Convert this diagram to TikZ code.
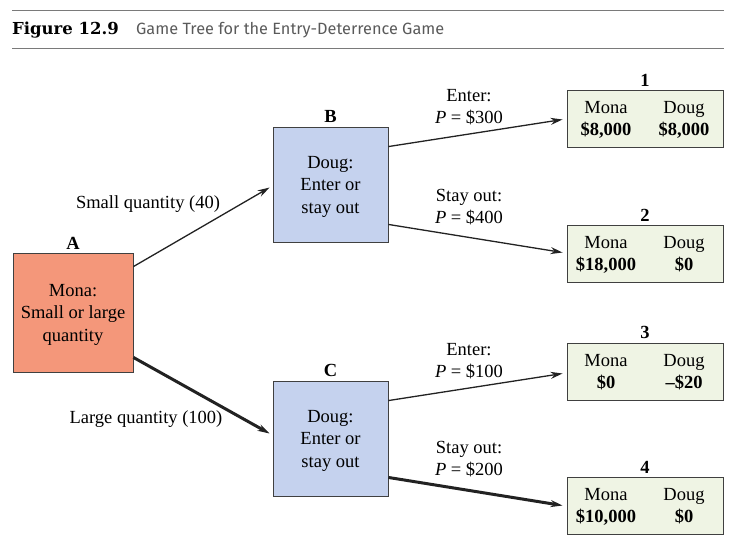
\documentclass[tikz,border=0pt]{standalone}
\usepackage{fontspec}
\setmainfont{Liberation Serif}
\newfontfamily\headfont{DejaVu Serif}
\newfontfamily\capfont{Fira Sans}
\usetikzlibrary{arrows.meta,positioning}

\definecolor{monared}{HTML}{F4977A}
\definecolor{dougblue}{HTML}{C5D2EE}
\definecolor{payoffgreen}{HTML}{EFF4E4}
\definecolor{rulegray}{HTML}{7A7A7A}
\definecolor{capgray}{HTML}{5A5A5A}
\definecolor{inkgray}{HTML}{222222}

\tikzset{
  player/.style={draw=black!75, line width=0.9pt, minimum width=115pt,
    minimum height=115pt, align=center, inner sep=0pt,
    label distance=3pt, text depth=-2.5pt},
  payoff/.style={draw=black!75, fill=payoffgreen, line width=0.9pt,
    minimum width=156pt, minimum height=57pt, align=center, inner sep=0pt,
    label distance=5pt, text depth=0pt},
  move/.style={draw=inkgray, line width=1.3pt, -{Stealth[length=12pt,width=7pt]}},
  bestmove/.style={move, line width=3pt},
  tag/.style={font=\fontsize{18.5}{22}\selectfont\bfseries}
}
\newcommand{\cell}[1]{\makebox[78pt]{#1}}

\begin{document}
\begin{tikzpicture}[x=1pt, y=-1pt, font=\fontsize{18.5}{22.5}\selectfont]

    \useasboundingbox (0, 0) rectangle (738, 547);

    % heading
    \draw[rulegray, line width=1pt] (12, 10) -- (724, 10);
    \draw[rulegray, line width=1pt] (12, 48) -- (724, 48);
    \node[anchor=west, inner sep=0pt, font=\headfont\bfseries\fontsize{16.5}{18}\selectfont] (fig) at (12, 30) {Figure 12.9};
    \node[anchor=west, inner sep=0pt, text=capgray, font=\capfont\fontsize{16.3}{18}\selectfont] (cap) at (136, 30) {Game Tree for the Entry-Deterrence Game};

    % decision nodes
    \node[player, fill=monared, minimum width=120pt, minimum height=119pt,
      label={[tag]above:A}] (A) at (73, 312.5) {Mona:\\Small or large\\quantity};
    \node[player, fill=dougblue, label={[tag]above:B}] (B) at (330.5, 184.5) {Doug:\\Enter or\\stay out};
    \node[player, fill=dougblue, label={[tag]above:C}] (C) at (330.5, 438.5) {Doug:\\Enter or\\stay out};

    % outcomes
    \node[payoff, label={[tag]above:1}] (P1) at (645, 118.5) {\cell{Mona}\cell{Doug}\\\cell{\textbf{\$8,000}}\cell{\textbf{\$8,000}}};
    \node[payoff, label={[tag]above:2}] (P2) at (645, 253.5) {\cell{Mona}\cell{Doug}\\\cell{\textbf{\$18,000}}\cell{\textbf{\$0}}};
    \node[payoff, label={[tag]above:3}] (P3) at (645, 371.5) {\cell{Mona}\cell{Doug}\\\cell{\textbf{\$0}}\cell{\textbf{--\$20}}};
    \node[payoff, label={[tag]above:4}] (P4) at (645, 505.5) {\cell{Mona}\cell{Doug}\\\cell{\textbf{\$10,000}}\cell{\textbf{\$0}}};

    % moves
    \draw[move] ([yshift=-14pt]A.north east) -- ([xshift=-3pt, yshift=-3pt]B.west);
    \draw[bestmove] ([yshift=15pt]A.south east) -- ([xshift=-3pt, yshift=5pt]C.west);
    \draw[move] ([yshift=-20pt]B.north east) -- ([xshift=-4pt, yshift=-1pt]P1.west);
    \draw[move] ([yshift=18pt]B.south east) -- ([xshift=-4pt, yshift=1pt]P2.west);
    \draw[move] ([yshift=-20pt]C.north east) -- ([xshift=-4pt, yshift=-2pt]P3.west);
    \draw[bestmove] ([yshift=19pt]C.south east) -- ([xshift=-4pt]P4.west);

    % move labels
    \node (small) at (148, 204) {Small quantity (40)};
    \node (large) at (146, 419) {Large quantity (100)};
    \node[align=center] (enterB) at (469, 107) {Enter:\\\textit{P} = \$300};
    \node[align=center] (stayB) at (469, 207) {Stay out:\\\textit{P} = \$400};
    \node[align=center] (enterC) at (469, 361) {Enter:\\\textit{P} = \$100};
    \node[align=center] (stayC) at (469, 459) {Stay out:\\\textit{P} = \$200};

\end{tikzpicture}
\end{document}
